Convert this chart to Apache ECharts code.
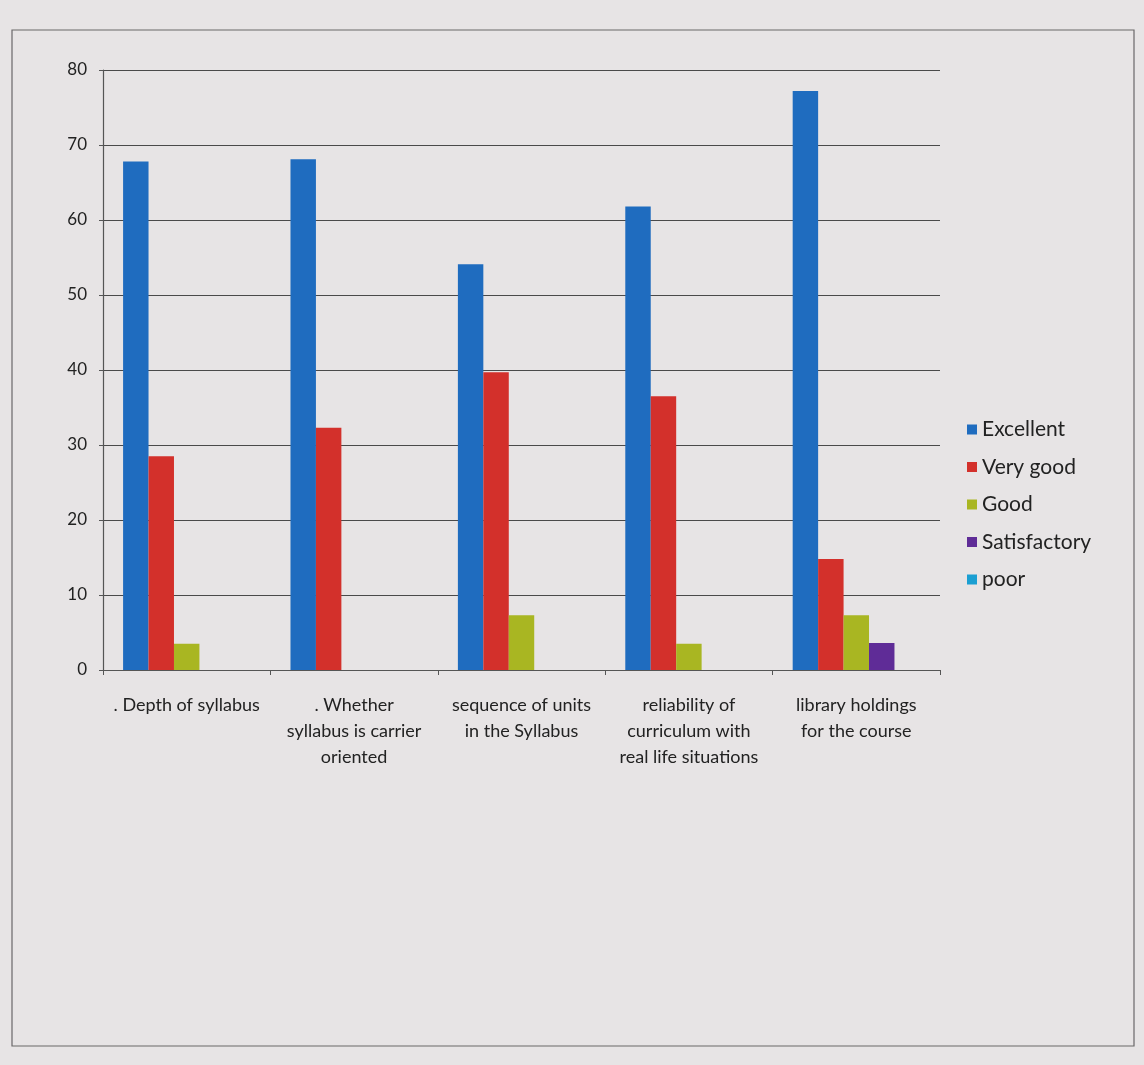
<!DOCTYPE html>
<html>
<head>
<meta charset="utf-8">
<script src="https://cdn.jsdelivr.net/npm/echarts@6/dist/echarts.min.js"></script>
<style>
html,body{margin:0;padding:0;background:#e7e4e5;}
#c{width:1144px;height:1065px;}
</style>
</head>
<body>
<div id="c"></div>
<script>
var categories = [
  ". Depth of syllabus",
  ". Whether\nsyllabus is carrier\noriented",
  "sequence of units\nin the Syllabus",
  "reliability of\ncurriculum with\nreal life situations",
  "library holdings\nfor the course"
];
var seriesNames = ["Excellent", "Very good", "Good", "Satisfactory", "poor"];
var excellent = [67.8, 68.1, 54.1, 61.8, 77.2];
var veryGood = [28.5, 32.3, 39.7, 36.5, 14.8];
var good = [3.5, 0, 7.3, 3.5, 7.3];
var satisfactory = [0, 0, 0, 0, 3.6];
var poor = [0, 0, 0, 0, 0];
var yTicks = [0, 10, 20, 30, 40, 50, 60, 70, 80];

var colors = ["#1f6cbf", "#d3302b", "#a9b622", "#5f2c97", "#1b9fd2"];
var values = [excellent, veryGood, good, satisfactory, poor];
var font = "Lato, 'Open Sans', sans-serif";

var chart = echarts.init(document.getElementById('c'), null, {renderer: 'canvas'});
chart.setOption({
  backgroundColor: '#e7e4e5',
  color: colors,
  textStyle: {fontFamily: font},
  graphic: [{
    type: 'rect',
    shape: {x: 12, y: 30, width: 1122, height: 1016},
    style: {fill: 'none', stroke: '#6a6869', lineWidth: 1.2},
    silent: true
  }],
  grid: {left: 103, right: 204, top: 70, bottom: 395, containLabel: false},
  legend: {
    orient: 'vertical',
    left: 962,
    top: 414,
    itemWidth: 10,
    itemHeight: 10,
    itemGap: 16.5,
    icon: 'rect',
    data: seriesNames,
    textStyle: {fontSize: 21, color: '#222', fontFamily: font, padding: [0, 0, 0, 0]}
  },
  xAxis: {
    type: 'category',
    data: categories,
    axisLine: {show: true, lineStyle: {color: '#555', width: 1.2}},
    axisTick: {show: true, alignWithLabel: false, length: 5, lineStyle: {color: '#555'}},
    axisLabel: {
      interval: 0,
      fontSize: 18,
      color: '#222',
      lineHeight: 26,
      margin: 22,
      align: 'center'
    }
  },
  yAxis: {
    type: 'value',
    min: 0,
    max: 80,
    interval: 10,
    axisLine: {show: true, lineStyle: {color: '#555', width: 1.2}},
    axisTick: {show: true, length: 4, lineStyle: {color: '#555'}},
    splitLine: {show: true, lineStyle: {color: '#4a4a4a', width: 1.2}},
    axisLabel: {
      fontSize: 17,
      color: '#222',
      margin: 16,
      formatter: function (v) { return yTicks.indexOf(v) >= 0 ? String(v) : ''; }
    }
  },
  series: seriesNames.map(function (n, i) {
    return {
      name: n,
      type: 'bar',
      data: values[i],
      barGap: '0%',
      barCategoryGap: '24%',
      itemStyle: {color: colors[i]}
    };
  })
});
</script>
</body>
</html>
